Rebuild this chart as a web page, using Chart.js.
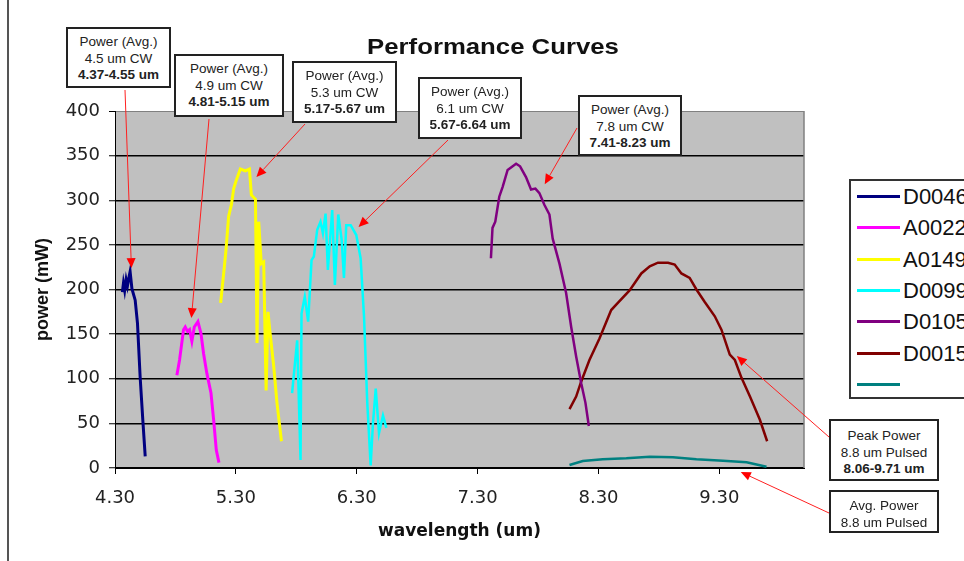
<!DOCTYPE html>
<html>
<head>
<meta charset="utf-8">
<title>Performance Curves</title>
<script src="https://cdn.jsdelivr.net/npm/chart.js@4.4.1/dist/chart.umd.min.js"></script>
<style>
    html, body { margin: 0; padding: 0; width: 964px; height: 561px; overflow: hidden; background: #fff; }
    #wrap { position: relative; width: 964px; height: 561px; font-family: "Liberation Sans", Arial, sans-serif; color: #111; }
    #chart { position: absolute; left: 0; top: 0; }
    .frame { position: absolute; left: 7px; top: 0; width: 2px; height: 561px; background: #555; }
    .title { position: absolute; left: 293px; width: 400px; top: 34px; text-align: center; font-weight: bold;
             font-size: 22px; line-height: 26px; transform: scaleX(1.17); transform-origin: center; }
    .note { position: absolute; background: #fff; border: 2px solid #222; box-sizing: border-box; text-align: center;
            font-size: 13.5px; line-height: 16.5px; padding-top: 5px; overflow: hidden; color: #222; white-space: nowrap; }
    .note b { font-weight: bold; }
    #legend { position: absolute; left: 849px; top: 179px; width: 140px; height: 220px; border: 2px solid #333;
              box-sizing: border-box; background: #fff; }
    .lg-row { position: absolute; left: 0; height: 24px; width: 140px; }
    .lg-line { position: absolute; left: 6px; top: 10px; width: 43px; height: 3px; }
    .lg-text { position: absolute; left: 52px; top: 0; font-size: 22px; line-height: 24px; }
</style>
</head>
<body>
<div id="wrap">
    <canvas id="chart" width="964" height="561"></canvas>
    <div class="frame"></div>
    <div class="title">Performance Curves</div>

    <div class="note" style="left:66px; top:27px; width:105px; height:61px;">Power (Avg.)<br>4.5 um CW<br><b>4.37-4.55 um</b></div>
    <div class="note" style="left:174px; top:54px; width:110px; height:63px;">Power (Avg.)<br>4.9 um CW<br><b>4.81-5.15 um</b></div>
    <div class="note" style="left:292px; top:61px; width:105px; height:62px;">Power (Avg.)<br>5.3 um CW<br><b>5.17-5.67 um</b></div>
    <div class="note" style="left:418px; top:77px; width:104px; height:62px;">Power (Avg.)<br>6.1 um CW<br><b>5.67-6.64 um</b></div>
    <div class="note" style="left:578px; top:95px; width:104px; height:61px;">Power (Avg.)<br>7.8 um CW<br><b>7.41-8.23 um</b></div>
    <div class="note" style="left:829px; top:419px; width:110px; height:62px; padding-top:7px;">Peak Power<br>8.8 um Pulsed<br><b>8.06-9.71 um</b></div>
    <div class="note" style="left:829px; top:490px; width:110px; height:43px; padding-top:6px;">Avg. Power<br>8.8 um Pulsed</div>

    <div id="legend"></div>
</div>

<script>
// Series names and colours
const seriesNames = ['D0046', 'A0022', 'A0149', 'D0099', 'D0105', 'D0015', ''];
const seriesColors = ['#000080', '#FF00FF', '#FFFF00', '#00FFFF', '#800080', '#800000', '#008080'];

// wavelength (um) / power (mW)
const d0046Wl = [4.361, 4.370, 4.380, 4.392, 4.403, 4.413, 4.425, 4.440, 4.467, 4.486, 4.508, 4.530, 4.550];
const d0046Pw = [197, 207, 199, 211, 204, 212, 220, 201, 188, 162, 102, 54, 13];

const a0022Wl = [4.812, 4.834, 4.867, 4.881, 4.900, 4.917, 4.936, 4.956, 4.986, 5.011, 5.033, 5.060, 5.094, 5.116, 5.138, 5.160];
const a0022Pw = [104, 121, 155, 158, 153, 155, 142, 158, 164, 151, 128, 106, 84, 54, 20, 6];

const a0149Wl = [5.174, 5.199, 5.218, 5.240, 5.263, 5.282, 5.300, 5.337, 5.379, 5.412, 5.428, 5.462, 5.475, 5.489, 5.510, 5.530, 5.550, 5.566, 5.580, 5.613, 5.640, 5.677];
const a0149Pw = [185, 218, 244, 282, 295, 313, 321, 335, 333, 335, 306, 301, 140, 276, 229, 231, 87, 175, 155, 114, 73, 30];

const d0099Wl = [5.765, 5.807, 5.835, 5.843, 5.870, 5.898, 5.926, 5.945, 5.973, 6.000, 6.020, 6.042, 6.061, 6.097, 6.119, 6.147, 6.175, 6.194, 6.213, 6.250, 6.296, 6.332, 6.360, 6.387, 6.415, 6.434, 6.457, 6.484, 6.517, 6.545];
const d0099Pw = [84, 143, 9, 173, 192, 164, 233, 237, 267, 276, 263, 285, 222, 289, 205, 284, 256, 213, 272, 272, 261, 235, 170, 73, 3, 50, 89, 39, 59, 45];

const d0105Wl = [7.410, 7.423, 7.446, 7.479, 7.507, 7.548, 7.618, 7.651, 7.700, 7.742, 7.778, 7.811, 7.852, 7.894, 7.921, 7.977, 8.032, 8.074, 8.115, 8.157, 8.192, 8.220];
const d0105Pw = [235, 269, 276, 304, 315, 334, 341, 338, 326, 312, 313, 308, 295, 284, 257, 229, 196, 158, 125, 95, 73, 47];

const d0015Wl = [8.060, 8.115, 8.157, 8.225, 8.308, 8.405, 8.460, 8.557, 8.654, 8.724, 8.792, 8.875, 8.930, 8.986, 9.054, 9.110, 9.179, 9.262, 9.317, 9.386, 9.428, 9.483, 9.553, 9.635, 9.695];
const d0015Pw = [66, 80, 97, 121, 145, 177, 185, 199, 218, 226, 230, 230, 228, 218, 213, 200, 186, 170, 155, 127, 121, 101, 80, 54, 30];

const avgWl = [8.060, 8.170, 8.335, 8.530, 8.724, 8.916, 9.110, 9.330, 9.525, 9.690];
const avgPw = [3.4, 7.8, 9.7, 10.8, 12.7, 12.0, 9.7, 8.2, 6.4, 1.5];

// Axis ticks
const xTicks = [4.3, 5.3, 6.3, 7.3, 8.3, 9.3];
const xTickLabels = ['4.30', '5.30', '6.30', '7.30', '8.30', '9.30'];
const yTicks = [0, 50, 100, 150, 200, 250, 300, 350, 400];

const seriesWl = [d0046Wl, a0022Wl, a0149Wl, d0099Wl, d0105Wl, d0015Wl, avgWl];
const seriesPw = [d0046Pw, a0022Pw, a0149Pw, d0099Pw, d0105Pw, d0015Pw, avgPw];
const lineWidths = [3, 3, 3, 2.5, 2.5, 2.5, 2.5];

function toPoints(xs, ys) {
    return xs.map((x, i) => ({ x: x, y: ys[i] }));
}

const datasets = seriesNames.map((name, i) => ({
    label: name,
    data: toPoints(seriesWl[i], seriesPw[i]),
    borderColor: seriesColors[i],
    backgroundColor: seriesColors[i],
    borderWidth: lineWidths[i],
    showLine: true,
    pointRadius: 0,
    tension: 0
}));

// Red call-out arrows: start in page pixels (box edge), tip in data units
const arrows = [
    { from: [125, 90], to: [4.436, 224] },
    { from: [209, 119], to: [4.932, 168] },
    { from: [305, 124], to: [5.470, 326] },
    { from: [448, 140], to: [6.315, 270] },
    { from: [577, 128], to: [7.855, 318] },
    { from: [829, 437], to: [9.444, 125.5] },
    { from: [829, 513], to: [9.477, -4.5] }
];

// Plot area fill, border and arrows
const plotDecor = {
    id: 'plotDecor',
    beforeDraw(chart) {
        const a = chart.chartArea;
        const ctx = chart.ctx;
        ctx.save();
        ctx.fillStyle = '#C0C0C0';
        ctx.fillRect(a.left, a.top, a.right - a.left, a.bottom - a.top);
        ctx.restore();
    },
    afterDraw(chart) {
        const a = chart.chartArea;
        const ctx = chart.ctx;
        const xs = chart.scales.x, ys = chart.scales.y;
        ctx.save();
        ctx.strokeStyle = '#808080';
        ctx.lineWidth = 1.5;
        ctx.beginPath();
        ctx.moveTo(a.right, a.top);
        ctx.lineTo(a.right, a.bottom);
        ctx.stroke();

        ctx.strokeStyle = '#FF2020';
        ctx.fillStyle = '#FF0000';
        ctx.lineWidth = 1;
        arrows.forEach(ar => {
            const x0 = ar.from[0], y0 = ar.from[1];
            const x1 = xs.getPixelForValue(ar.to[0]);
            const y1 = ys.getPixelForValue(ar.to[1]);
            const ang = Math.atan2(y1 - y0, x1 - x0);
            const len = 10, half = 4.5;
            const bx = x1 - len * Math.cos(ang), by = y1 - len * Math.sin(ang);
            ctx.beginPath();
            ctx.moveTo(x0, y0);
            ctx.lineTo(bx, by);
            ctx.stroke();
            ctx.beginPath();
            ctx.moveTo(x1, y1);
            ctx.lineTo(bx + half * Math.sin(ang), by - half * Math.cos(ang));
            ctx.lineTo(bx - half * Math.sin(ang), by + half * Math.cos(ang));
            ctx.closePath();
            ctx.fill();
        });
        ctx.restore();
    }
};

const tickFont = { family: 'DejaVu Sans', size: 18 };

new Chart(document.getElementById('chart'), {
    type: 'scatter',
    data: { datasets },
    options: {
        responsive: false,
        animation: false,
        layout: { padding: { top: 111, right: 160, bottom: 0, left: 0 } },
        plugins: { legend: { display: false }, title: { display: false }, tooltip: { enabled: false } },
        scales: {
            x: {
                type: 'linear',
                min: 4.3,
                max: 10,
                afterBuildTicks: s => { s.ticks = xTicks.map(v => ({ value: v })); },
                afterFit: s => { s.height = 93; },
                ticks: { font: tickFont, color: '#222', padding: 14, maxRotation: 0,
                         callback: (v, i) => xTickLabels[i] },
                grid: { drawOnChartArea: false, color: '#000', tickLength: 6, tickColor: '#000' },
                border: { color: '#000', width: 1 },
                title: { display: true, text: 'wavelength (um)', color: '#111',
                         font: { family: 'DejaVu Sans', size: 17, weight: 'bold' }, padding: { top: 0, bottom: 19 } }
            },
            y: {
                min: 0,
                max: 400,
                afterBuildTicks: s => { s.ticks = yTicks.map(v => ({ value: v })); },
                afterFit: s => { s.width = 115; },
                ticks: { font: tickFont, color: '#222', padding: 9 },
                grid: {
                    color: c => (c.tick && c.tick.value === 400 ? '#808080' : '#000'),
                    lineWidth: c => (c.tick && c.tick.value === 400 ? 1 : 1.5),
                    tickLength: 6, tickColor: '#000', tickWidth: 1
                },
                border: { color: '#000', width: 1 },
                title: { display: true, text: 'power (mW)', color: '#111',
                         font: { family: 'Liberation Sans', size: 18, weight: 'bold' }, padding: { top: 32, bottom: 0 } }
            }
        }
    },
    plugins: [plotDecor]
});

// HTML legend
const legend = document.getElementById('legend');
seriesNames.forEach((name, i) => {
    const row = document.createElement('div');
    row.className = 'lg-row';
    row.style.top = (3.7 + i * 31.4) + 'px';
    row.innerHTML = `<div class="lg-line" style="background:${seriesColors[i]}"></div><div class="lg-text">${name}</div>`;
    legend.appendChild(row);
});
</script>
</body>
</html>
